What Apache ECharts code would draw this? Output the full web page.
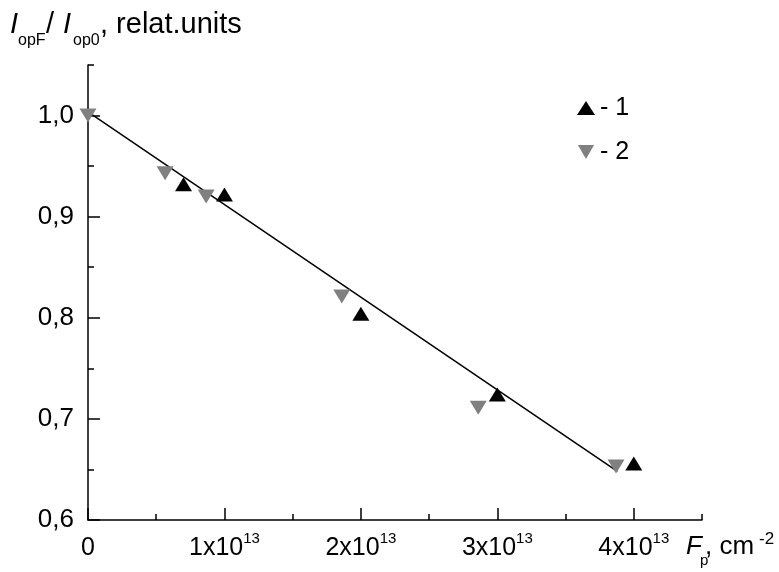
<!DOCTYPE html>
<html>
<head>
<meta charset="utf-8">
<script src="https://cdn.jsdelivr.net/npm/echarts@6/dist/echarts.min.js"></script>
<style>
  html, body { margin: 0; padding: 0; background: #fff; }
  #chart { width: 779px; height: 572px; }
</style>
</head>
<body>
<div id="chart"></div>
<script>
// fluence F_p (cm^-2) and relative I_opF / I_op0
const fluence1 = [0.7e13, 1.0e13, 2.0e13, 3.0e13, 4.0e13];
const ratio1 = [0.932, 0.922, 0.804, 0.724, 0.656];
const fluence2 = [0, 0.565e13, 0.866e13, 1.86e13, 2.86e13, 3.87e13];
const ratio2 = [1.0, 0.943, 0.92, 0.821, 0.711, 0.653];
// fitted straight line, two ends
const fitX = [0, 3.88e13];
const fitY = [1.0036, 0.648];
const xMajorTicks = [0, 1e13, 2e13, 3e13, 4e13];
const yMajorTicks = [0.6, 0.7, 0.8, 0.9, 1.0];
const legendNames = ['- 1', '- 2'];

const FONT = "'Liberation Sans', Arial, sans-serif";
const downTri = 'path://M0,0L10,0L5,8.66Z';

const chart = echarts.init(document.getElementById('chart'));

function zip(xs, ys) { return xs.map((x, i) => [x, ys[i]]); }

function txt(x, y, text, font) {
  return { type: 'text', x: x, y: y, style: { text: text, font: font, fill: '#000', textVerticalAlign: 'middle' } };
}

const option = {
  backgroundColor: '#fff',
  animation: false,
  grid: { left: 88, right: 77, top: 65, bottom: 52 },
  legend: {
    orient: 'vertical',
    left: 572,
    top: 90,
    itemWidth: 18,
    itemHeight: 14,
    itemGap: 18,
    selectedMode: false,
    textStyle: { fontFamily: FONT, fontSize: 25, color: '#000', lineHeight: 26 },
    data: [
      { name: legendNames[0], icon: 'triangle' },
      { name: legendNames[1], icon: downTri }
    ]
  },
  xAxis: [
    {
      type: 'value', min: 0, max: 4.5e13, interval: 5e12,
      axisLine: { lineStyle: { color: '#000', width: 1.5 } },
      splitLine: { show: false },
      axisTick: { inside: true, length: 6, lineStyle: { color: '#000', width: 1.5 } },
      axisLabel: {
        margin: 11,
        formatter: function (v) {
          const n = v / 1e13;
          if (Math.abs(n - Math.round(n)) > 1e-6) return '';
          if (Math.round(n) === 0) return '{b|0}';
          return '{b|' + Math.round(n) + 'x10}{s|13}';
        },
        rich: {
          b: { fontFamily: FONT, fontSize: 25, color: '#000', lineHeight: 30, verticalAlign: 'bottom' },
          s: { fontFamily: FONT, fontSize: 15, color: '#000', lineHeight: 19, verticalAlign: 'top' }
        }
      }
    },
    {
      type: 'value', min: 0, max: 4.5e13, position: 'bottom',
      axisLine: { show: false },
      splitLine: { show: false },
      axisLabel: { show: false },
      axisTick: { inside: true, length: 12, customValues: xMajorTicks, lineStyle: { color: '#000', width: 1.5 } }
    }
  ],
  yAxis: [
    {
      type: 'value', min: 0.6, max: 1.05, interval: 0.05,
      axisLine: { show: true, lineStyle: { color: '#000', width: 1.5 } },
      splitLine: { show: false },
      axisTick: { show: true, inside: true, length: 6, lineStyle: { color: '#000', width: 1.5 } },
      axisLabel: {
        margin: 14,
        fontFamily: FONT, fontSize: 26, color: '#000',
        formatter: function (v) {
          const k = Math.round(v * 100);
          if (k % 10 !== 0) return '';
          return (k / 100).toFixed(1).replace('.', ',');
        }
      }
    },
    {
      type: 'value', min: 0.6, max: 1.05, position: 'left',
      axisLine: { show: false },
      splitLine: { show: false },
      axisLabel: { show: false },
      axisTick: { show: true, inside: true, length: 12, customValues: yMajorTicks, lineStyle: { color: '#000', width: 1.5 } }
    }
  ],
  graphic: [
    // y axis title: I_opF / I_op0, relat.units
    txt(10, 25, 'I', 'italic 29px ' + FONT),
    txt(18, 41, 'opF', '16px ' + FONT),
    txt(46, 25, '/', '29px ' + FONT),
    txt(63, 25, 'I', 'italic 29px ' + FONT),
    txt(73, 41, 'op0', '16px ' + FONT),
    txt(100, 25, ', relat.units', '29px ' + FONT),
    // x axis name: F_p, cm^-2
    txt(686, 547, 'F', 'italic 26px ' + FONT),
    txt(700, 561, 'p', '15px ' + FONT),
    txt(705, 547, ', cm', '26px ' + FONT),
    txt(759, 539, '-2', '17px ' + FONT)
  ],
  series: [
    {
      name: 'fit',
      type: 'line',
      data: zip(fitX, fitY),
      showSymbol: false,
      symbol: 'none',
      lineStyle: { color: '#000', width: 1.5 },
      z: 1
    },
    {
      name: legendNames[0],
      type: 'scatter',
      data: zip(fluence1, ratio1),
      symbol: 'triangle',
      symbolSize: [17, 14],
      itemStyle: { color: '#000', opacity: 1 },
      z: 3
    },
    {
      name: legendNames[1],
      type: 'scatter',
      data: zip(fluence2, ratio2),
      symbol: downTri,
      symbolSize: [17, 14],
      itemStyle: { color: '#808080', opacity: 1 },
      z: 2
    }
  ]
};

chart.setOption(option);
</script>
</body>
</html>
